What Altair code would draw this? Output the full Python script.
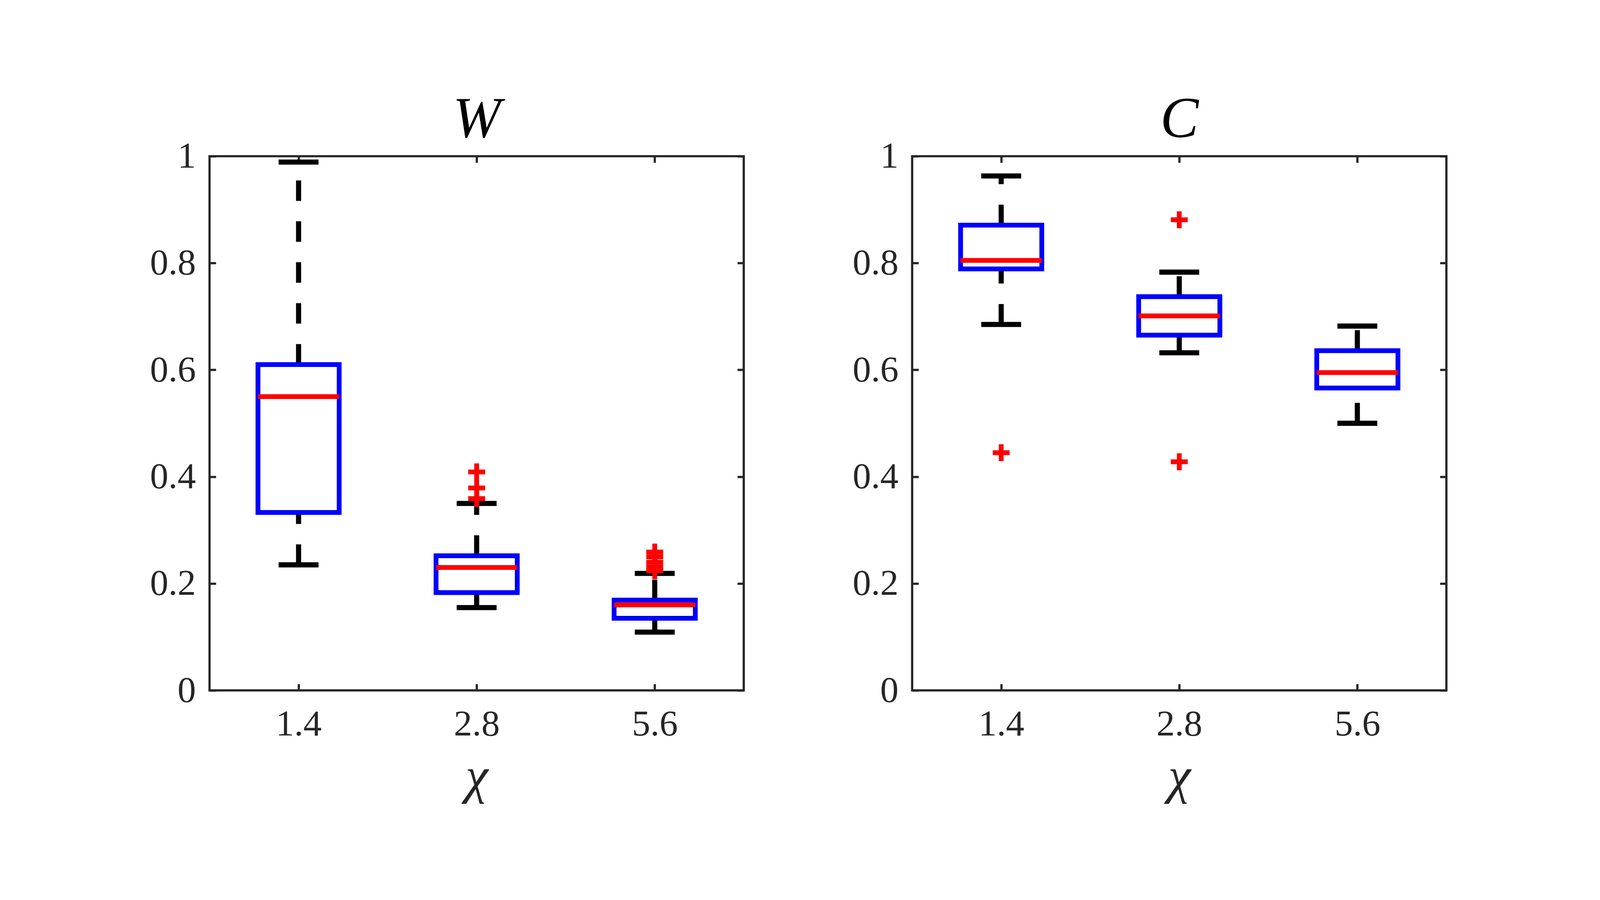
import json
import altair as alt
import pandas as pd

# ---------------- data ----------------
CATEGORIES = ["1.4", "2.8", "5.6"]
Y_TICKS = [0, 0.2, 0.4, 0.6, 0.8, 1]

# W panel
W_LOWER = [0.235, 0.155, 0.109]
W_Q1 = [0.333, 0.183, 0.135]
W_MEDIAN = [0.550, 0.230, 0.160]
W_Q3 = [0.610, 0.252, 0.169]
W_UPPER = [0.989, 0.350, 0.219]
W_OUT_CAT = ["2.8", "2.8", "2.8", "5.6", "5.6", "5.6", "5.6", "5.6"]
W_OUT_VAL = [0.409, 0.379, 0.359, 0.259, 0.250, 0.240, 0.231, 0.224]

# C panel
C_LOWER = [0.685, 0.632, 0.500]
C_Q1 = [0.789, 0.665, 0.566]
C_MEDIAN = [0.805, 0.701, 0.595]
C_Q3 = [0.871, 0.737, 0.636]
C_UPPER = [0.963, 0.783, 0.682]
C_OUT_CAT = ["1.4", "2.8", "2.8"]
C_OUT_VAL = [0.445, 0.881, 0.428]

# ---------------- style ----------------
BLUE = "#0000FF"
RED = "#FF0000"
BLACK = "#000000"
AX = "#262626"
FONT = "Liberation Serif"
BOX_HALF = 0.228
CAP_HALF = 0.112
PLUS = ("M-1,-0.283L-0.283,-0.283L-0.283,-1L0.283,-1L0.283,-0.283L1,-0.283"
        "L1,0.283L0.283,0.283L0.283,1L-0.283,1L-0.283,0.283L-1,0.283Z")

PW, PH = 1672, 1671
TICK = 20
TICKW = 7
LABEL_FS = 115

pos_expr = "indexof(%s, datum.cat) + 1" % json.dumps(CATEGORIES)
label_expr = "%s[datum.value - 1]" % json.dumps(CATEGORIES)

xscale = alt.Scale(domain=[0.5, 3.5], nice=False, zero=False)
yscale = alt.Scale(domain=[0, 1], nice=False, zero=False)

common_axis = dict(domain=False, grid=False, offset=-TICK, tickSize=TICK,
                   tickWidth=TICKW, tickColor=AX, ticks=True)

x_bottom = alt.Axis(orient="bottom", values=[1, 2, 3], labelExpr=label_expr,
                    labelFont=FONT, labelFontSize=LABEL_FS, labelColor=AX,
                    labelPadding=50, title="χ", titleFont=FONT,
                    titleFontStyle="italic", titleFontWeight="normal",
                    titleFontSize=160, titleColor=AX, titlePadding=30,
                    **common_axis)
y_left = alt.Axis(orient="left", values=Y_TICKS, format="~g",
                  labelFont=FONT, labelFontSize=LABEL_FS, labelColor=AX,
                  labelPadding=43, title=None, **common_axis)
y_right = alt.Axis(orient="right", values=Y_TICKS, labels=False, title=None,
                   **common_axis)


def x_top(title):
    # top frame ticks; the panel title sits above them as the axis title
    return alt.Axis(orient="top", values=[1, 2, 3], labels=False,
                    title=title, titleFont=FONT, titleFontStyle="italic",
                    titleFontWeight="normal", titleFontSize=180,
                    titleColor=BLACK, titleBaseline="alphabetic",
                    titlePadding=57, **common_axis)


def panel(title, lower, q1, med, q3, upper, out_cat, out_val):
    stats = pd.DataFrame({"cat": CATEGORIES, "lower": lower, "q1": q1,
                          "median": med, "q3": q3, "upper": upper})
    outl = pd.DataFrame({"cat": out_cat, "value": out_val})

    base = alt.Chart(stats).transform_calculate(
        pos=pos_expr
    ).transform_calculate(
        blo=f"datum.pos - {BOX_HALF}", bhi=f"datum.pos + {BOX_HALF}",
        clo=f"datum.pos - {CAP_HALF}", chi=f"datum.pos + {CAP_HALF}",
    )

    whisk_lo = base.mark_rule(color=BLACK, strokeWidth=16, strokeDash=[64, 64]).encode(
        x=alt.X("pos:Q", scale=xscale, axis=None),
        y=alt.Y("lower:Q", scale=yscale, axis=None), y2="q1:Q")
    whisk_hi = base.mark_rule(color=BLACK, strokeWidth=16, strokeDash=[64, 64]).encode(
        x=alt.X("pos:Q", scale=xscale, axis=None),
        y=alt.Y("q3:Q", scale=yscale, axis=None), y2="upper:Q")
    cap_lo = base.mark_rule(color=BLACK, strokeWidth=16).encode(
        x=alt.X("clo:Q", scale=xscale, axis=None), x2="chi:Q",
        y=alt.Y("lower:Q", scale=yscale, axis=None))
    cap_hi = base.mark_rule(color=BLACK, strokeWidth=16).encode(
        x=alt.X("clo:Q", scale=xscale, axis=None), x2="chi:Q",
        y=alt.Y("upper:Q", scale=yscale, axis=None))
    box = base.mark_rect(fill="transparent", stroke=BLUE, strokeWidth=15).encode(
        x=alt.X("blo:Q", scale=xscale, axis=x_bottom), x2="bhi:Q",
        y=alt.Y("q1:Q", scale=yscale, axis=y_left), y2="q3:Q")
    median = base.mark_rule(color=RED, strokeWidth=15).encode(
        x=alt.X("blo:Q", scale=xscale, axis=x_top(title)), x2="bhi:Q",
        y=alt.Y("median:Q", scale=yscale, axis=y_right))
    outliers = alt.Chart(outl).transform_calculate(pos=pos_expr).mark_point(
        shape=PLUS, filled=True, fill=RED, size=2809, opacity=1, strokeWidth=0
    ).encode(
        x=alt.X("pos:Q", scale=xscale, axis=None),
        y=alt.Y("value:Q", scale=yscale, axis=None))

    return alt.layer(
        whisk_lo, whisk_hi, cap_lo, cap_hi, box, median, outliers
    ).resolve_axis(x="independent", y="independent").properties(
        width=PW, height=PH,
    )


left = panel("W", W_LOWER, W_Q1, W_MEDIAN, W_Q3, W_UPPER, W_OUT_CAT, W_OUT_VAL)
right = panel("C", C_LOWER, C_Q1, C_MEDIAN, C_Q3, C_UPPER, C_OUT_CAT, C_OUT_VAL)

chart = alt.hconcat(left, right, spacing=329).properties(
    padding={"left": 455, "top": 20, "right": 464, "bottom": 0},
    background="white",
).configure_view(stroke=AX, strokeWidth=TICKW)

chart.save("out.html", embed_options={"renderer": "svg", "actions": False})
